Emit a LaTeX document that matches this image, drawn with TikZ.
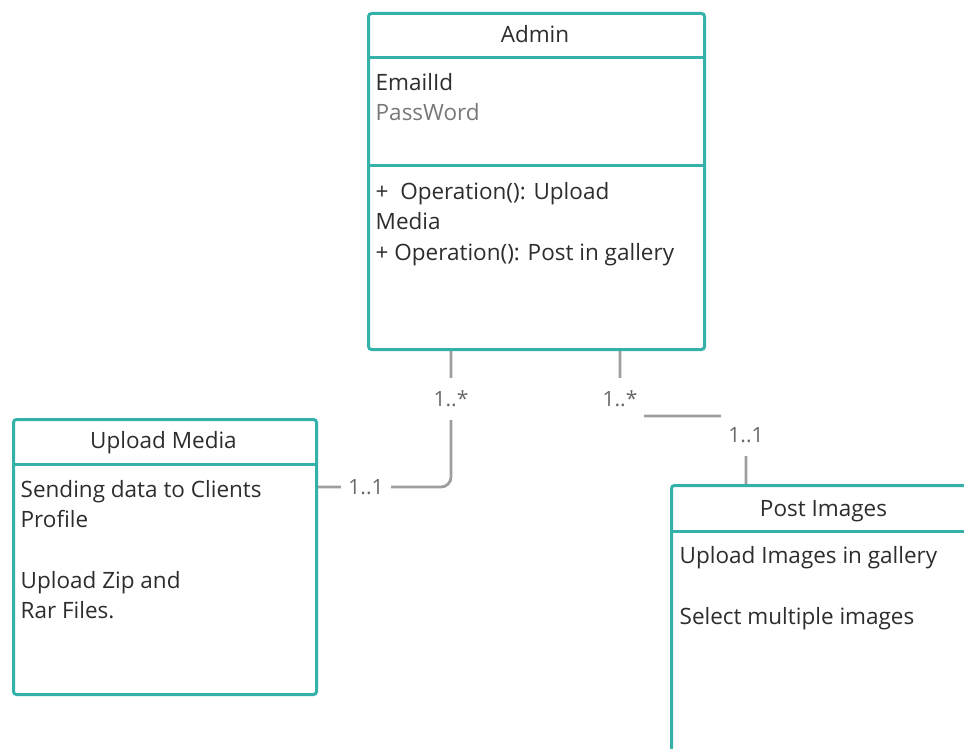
\documentclass[tikz,border=0pt]{standalone}
\usepackage{fontspec}
\setmainfont{Open Sans}
\usetikzlibrary{calc}
\definecolor{teal1}{RGB}{52,178,170}
\definecolor{conncol}{RGB}{158,158,158}
\definecolor{labcol}{RGB}{105,105,105}
\definecolor{txt}{RGB}{45,45,45}
\definecolor{txtlight}{RGB}{120,120,120}
\pgfdeclarelayer{bg}
\pgfsetlayers{bg,main}
\tikzset{
  cls/.style={draw=teal1, line width=3pt, rounded corners=3pt, fill=white, anchor=north west, inner sep=0pt},
  divline/.style={draw=teal1, line width=3pt},
  body/.style={anchor=base west, inner sep=0pt, text=txt, font=\fontsize{22.5}{27}\selectfont},
  head/.style={anchor=base, inner sep=0pt, text=txt, font=\fontsize{22.5}{27}\selectfont},
  mult/.style={fill=white, inner xsep=7pt, inner ysep=0pt, minimum height=42pt, text=labcol, font=\fontsize{21}{25}\selectfont},
  conn/.style={draw=conncol, line width=2.8pt, rounded corners=10pt}
}
\begin{document}
\begin{tikzpicture}[x=1pt,y=-1pt]
\useasboundingbox (0,0) rectangle (964,749);
\clip (0,0) rectangle (964,749);

% Admin class
\node[cls, minimum width=336pt, minimum height=336pt] (admin) at (367,12) {};
\draw[divline] ([yshift=-46pt]admin.north west) -- ([yshift=-46pt]admin.north east);
\draw[divline] ([yshift=-154pt]admin.north west) -- ([yshift=-154pt]admin.north east);
\node[head] (adminname) at (535,43) {Admin};
\node[body] (a1) at (375.5,91) {EmailId};
\node[body, text=txtlight] (a2) at (375.5,120.5) {PassWord};
\node[body] (a3) at (375.5,199) {+\ \ Operation(): Upload};
\node[body] (a4) at (375.5,229) {Media};
\node[body] (a5) at (375.5,260) {+ Operation(): Post in gallery};

% Upload Media class
\node[cls, minimum width=303pt, minimum height=275pt] (upload) at (12,418) {};
\draw[divline] ([yshift=-46pt]upload.north west) -- ([yshift=-46pt]upload.north east);
\node[head] (uploadname) at (163.5,448) {Upload Media};
\node[body] (u1) at (20.5,497) {Sending data to Clients};
\node[body] (u2) at (20.5,527) {Profile};
\node[body] (u3) at (20.5,588) {Upload Zip and};
\node[body] (u4) at (20.5,618) {Rar Files.};

% Post Images class
\node[cls, minimum width=307pt, minimum height=300pt] (post) at (670,484) {};
\draw[divline] ([yshift=-47pt]post.north west) -- ([yshift=-47pt]post.north east);
\node[head] (postname) at (823.5,516.5) {Post Images};
\node[body] (p1) at (679.5,563) {Upload Images in gallery};
\node[body] (p2) at (679.5,624) {Select multiple images};

% multiplicities
\node[mult] (m1) at (451,399) {1..*};
\node[mult] (m2) at (366,487) {1..1};
\node[mult] (m3) at (620,399) {1..*};
\node[mult] (m4) at (746,435) {1..1};

\coordinate (r1) at (620,416);
\coordinate (r2) at (746,416);

\begin{pgfonlayer}{bg}
\draw[conn] (m1 |- admin.south) -- (m1 |- m2) -- (m2 -| upload.east);
\draw[conn] (m3 |- admin.south) -- (r1) -- (r2) -- (m4 |- post.north);
\end{pgfonlayer}
\end{tikzpicture}
\end{document}
